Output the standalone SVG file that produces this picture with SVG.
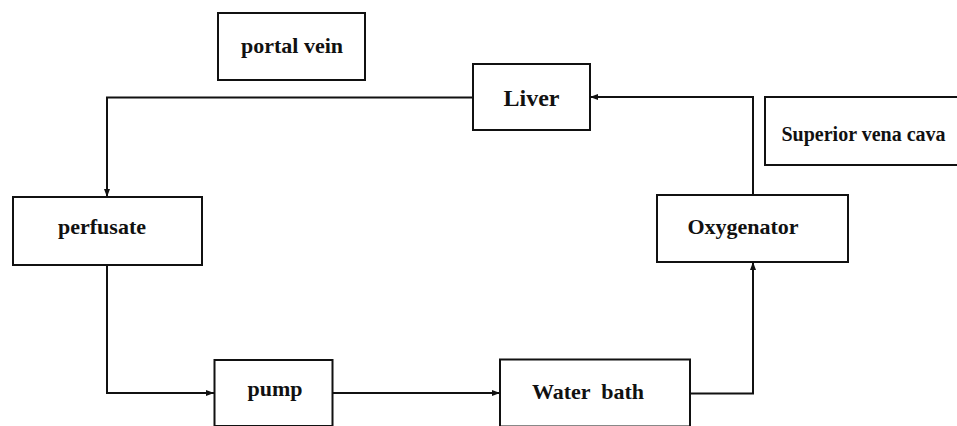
<svg xmlns="http://www.w3.org/2000/svg" width="957" height="426" viewBox="0 0 957 426">
<style>
.box{fill:#fff;stroke:#111;stroke-width:2}
.lbl{font-family:"Liberation Serif","Times New Roman",serif;font-weight:bold;font-size:22px;fill:#111;text-anchor:middle;white-space:pre}
.conn{fill:none;stroke:#111;stroke-width:2}
</style>
<defs>
<marker id="arr" viewBox="0 0 8 6" refX="8" refY="3" markerWidth="8" markerHeight="6" markerUnits="userSpaceOnUse" orient="auto">
<path d="M0,0 L8,3 L0,6 Z" fill="#111"/>
</marker>
</defs>
<rect width="957" height="426" fill="#fff"/>
<g id="connectors">
<path class="conn" d="M473,97.5 H107 V197" marker-end="url(#arr)"/>
<path class="conn" d="M107,265 V393 H214" marker-end="url(#arr)"/>
<path class="conn" d="M333,393 H500" marker-end="url(#arr)"/>
<path class="conn" d="M690,393.5 H753 V262" marker-end="url(#arr)"/>
<path class="conn" d="M753,195 V97 H590" marker-end="url(#arr)"/>
</g>
<g id="portal-vein">
<rect class="box" x="218" y="13" width="147" height="67"/>
<text class="lbl" x="292" y="53">portal vein</text>
</g>
<g id="liver">
<rect class="box" x="473" y="64" width="117" height="66"/>
<text class="lbl" x="531.5" y="106" style="font-size:24px">Liver</text>
</g>
<g id="superior-vena-cava">
<rect class="box" x="765" y="97" width="200" height="68"/>
<text class="lbl" x="863.5" y="141" style="font-size:20px">Superior vena cava</text>
</g>
<g id="oxygenator">
<rect class="box" x="657" y="195" width="191" height="67"/>
<text class="lbl" x="743" y="234">Oxygenator</text>
</g>
<g id="perfusate">
<rect class="box" x="13" y="197" width="189" height="68"/>
<text class="lbl" x="102" y="234">perfusate</text>
</g>
<g id="pump">
<rect class="box" x="214.5" y="360" width="118" height="66"/>
<text class="lbl" x="275" y="396">pump</text>
</g>
<g id="water-bath">
<rect class="box" x="500" y="359.5" width="190" height="67"/>
<text class="lbl" x="588" y="399">Water  bath</text>
</g>
</svg>
